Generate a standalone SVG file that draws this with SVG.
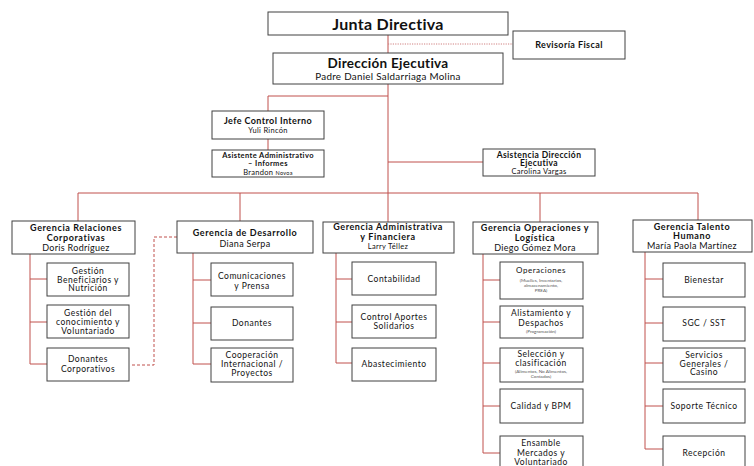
<svg xmlns="http://www.w3.org/2000/svg" width="754" height="466" viewBox="0 0 754 466">
  <style>
    .box { fill: #ffffff; stroke: #404040; stroke-width: 1; }
    .ln { fill: none; stroke: #c0504d; stroke-width: 1; }
    .dash { fill: none; stroke: #c0504d; stroke-width: 1; stroke-dasharray: 3 2; }
    .dot { fill: none; stroke: #d08080; stroke-width: 1; stroke-dasharray: 1.2 1.2; }
    text { font-family: Lato, "Liberation Sans", sans-serif; text-anchor: middle; fill: #111111; }
    .top { font-size: 16px; font-weight: bold; letter-spacing: 0.3px; }
    .dir { font-size: 13.5px; font-weight: bold; letter-spacing: 0.3px; }
    .h { font-size: 9px; font-weight: bold; letter-spacing: 0.6px; }
    .hs { font-size: 8.5px; font-weight: bold; letter-spacing: 0.4px; }
    .n { font-size: 9px; letter-spacing: 0.3px; }
    .ns { font-size: 7.5px; letter-spacing: 0.3px; }
    .c { font-size: 8.5px; letter-spacing: 0.5px; }
    .s { font-size: 4.6px; fill: #555555; }
  </style>

  <rect width="754" height="466" fill="#ffffff"/>

  <!-- connectors -->
  <g id="connectors">
    <path class="ln" d="M388 35 V53 M388 84 V193"/>
    <path class="dot" d="M388 44 H513"/>
    <path class="ln" d="M388 96 H268 V111 M268 139 V150"/>
    <path class="ln" d="M388 162 H483"/>
    <path class="ln" d="M78 193 H698"/>
    <path class="ln" d="M78 193 V221 M240 193 V221 M388 193 V222 M540 193 V222 M698 193 V220"/>
    <!-- department spines and branches -->
    <path class="ln" d="M30 254 V364 M30 279 H47 M30 322 H47 M30 364 H47"/>
    <path class="ln" d="M193 253 V364 M193 280 H211 M193 323 H211 M193 364 H211"/>
    <path class="ln" d="M336 253 V363 M336 279 H352 M336 322 H352 M336 363 H352"/>
    <path class="ln" d="M483 254 V453 M483 280 H500 M483 322 H500 M483 363 H500 M483 406 H500 M483 453 H500"/>
    <path class="ln" d="M645 252 V449 M645 279 H663 M645 323 H663 M645 363 H663 M645 406 H663 M645 449 H663"/>
    <path class="dash" d="M177 237 H154 V365 H130"/>
  </g>

  <g id="junta">
    <rect class="box" x="268" y="12" width="240" height="23"/>
    <text class="top" x="388" y="29.5">Junta Directiva</text>
  </g>

  <g id="revisoria">
    <rect class="box" x="513" y="31" width="112" height="28"/>
    <text class="hs" x="569" y="48" style="font-size:9px">Revisoría Fiscal</text>
  </g>

  <g id="direccion">
    <rect class="box" x="273" y="53" width="230" height="31"/>
    <text class="dir" x="388" y="67.5">Dirección Ejecutiva</text>
    <text class="n" x="388" y="80" style="font-size:9.8px">Padre Daniel Saldarriaga  Molina</text>
  </g>

  <g id="control-interno">
    <rect class="box" x="212" y="111" width="112" height="28"/>
    <text class="hs" x="268" y="124" style="font-size:9px">Jefe Control Interno</text>
    <text class="ns" x="268" y="133">Yuli  Rincón</text>
  </g>

  <g id="asistente-admin">
    <rect class="box" x="212" y="150" width="112" height="27"/>
    <text class="hs" x="268" y="157.5" style="font-size:7.5px">Asistente Administrativo</text>
    <text class="hs" x="268" y="166" style="font-size:7.5px">– Informes</text>
    <text class="ns" x="268" y="174.5">Brandon  <tspan style="font-size:5.5px">Novoa</tspan></text>
  </g>

  <g id="asistencia-direccion">
    <rect class="box" x="483" y="149" width="112" height="27"/>
    <text class="hs" x="539" y="157.5">Asistencia Dirección</text>
    <text class="hs" x="539" y="166">Ejecutiva</text>
    <text class="ns" x="539" y="174">Carolina Vargas</text>
  </g>

  <!-- Gerencia Relaciones Corporativas -->
  <g id="g-relaciones">
    <rect class="box" x="12" y="221" width="123" height="33"/>
    <text class="h" x="76" y="231">Gerencia Relaciones</text>
    <text class="h" x="76" y="241">Corporativas</text>
    <text class="n" x="76" y="251">Doris Rodríguez</text>
  </g>
  <g id="gestion-beneficiarios">
    <rect class="box" x="47" y="263" width="82" height="33"/>
    <text class="c" x="88" y="274">Gestión</text>
    <text class="c" x="88" y="282.5">Beneficiarios y</text>
    <text class="c" x="88" y="291">Nutrición</text>
  </g>
  <g id="gestion-conocimiento">
    <rect class="box" x="47" y="305" width="82" height="33"/>
    <text class="c" x="88" y="316">Gestión del</text>
    <text class="c" x="88" y="325">conocimiento y</text>
    <text class="c" x="88" y="334">Voluntariado</text>
  </g>
  <g id="donantes-corporativos">
    <rect class="box" x="47" y="348" width="82" height="33"/>
    <text class="c" x="88" y="362">Donantes</text>
    <text class="c" x="88" y="372">Corporativos</text>
  </g>

  <!-- Gerencia de Desarrollo -->
  <g id="g-desarrollo">
    <rect class="box" x="177" y="221" width="136" height="32"/>
    <text class="h" x="245" y="236">Gerencia de Desarrollo</text>
    <text class="n" x="245" y="246.5">Diana Serpa</text>
  </g>
  <g id="comunicaciones">
    <rect class="box" x="211" y="263" width="82" height="33"/>
    <text class="c" x="252" y="279">Comunicaciones</text>
    <text class="c" x="252" y="289">y Prensa</text>
  </g>
  <g id="donantes">
    <rect class="box" x="211" y="307" width="82" height="33"/>
    <text class="c" x="252" y="326">Donantes</text>
  </g>
  <g id="cooperacion">
    <rect class="box" x="211" y="348" width="82" height="34"/>
    <text class="c" x="252" y="358">Cooperación</text>
    <text class="c" x="252" y="367">Internacional /</text>
    <text class="c" x="252" y="376">Proyectos</text>
  </g>

  <!-- Gerencia Administrativa y Financiera -->
  <g id="g-administrativa">
    <rect class="box" x="323" y="222" width="131" height="31"/>
    <text class="h" x="388" y="230">Gerencia Administrativa</text>
    <text class="h" x="388" y="239.5">y Financiera</text>
    <text class="ns" x="388" y="249">Larry Téllez</text>
  </g>
  <g id="contabilidad">
    <rect class="box" x="352" y="262" width="84" height="33"/>
    <text class="c" x="394" y="282">Contabilidad</text>
  </g>
  <g id="control-aportes">
    <rect class="box" x="352" y="305" width="84" height="33"/>
    <text class="c" x="394" y="320">Control Aportes</text>
    <text class="c" x="394" y="329">Solidarios</text>
  </g>
  <g id="abastecimiento">
    <rect class="box" x="352" y="348" width="84" height="33"/>
    <text class="c" x="394" y="367">Abastecimiento</text>
  </g>

  <!-- Gerencia Operaciones y Logistica -->
  <g id="g-operaciones">
    <rect class="box" x="473" y="222" width="125" height="32"/>
    <text class="h" x="535" y="231">Gerencia Operaciones y</text>
    <text class="h" x="535" y="240.5">Logística</text>
    <text class="n" x="535" y="250.5">Diego Gómez Mora</text>
  </g>
  <g id="operaciones">
    <rect class="box" x="500" y="262" width="83" height="37"/>
    <text class="c" x="541" y="273" style="font-size:8px">Operaciones</text>
    <text class="s" x="541" y="282">(Muelles, Inventarios,</text>
    <text class="s" x="541" y="287">almacenamiento,</text>
    <text class="s" x="541" y="292">PREA)</text>
  </g>
  <g id="alistamiento">
    <rect class="box" x="500" y="306" width="83" height="32"/>
    <text class="c" x="541" y="316">Alistamiento y</text>
    <text class="c" x="541" y="325.5">Despachos</text>
    <text class="s" x="541" y="333">(Programación)</text>
  </g>
  <g id="seleccion">
    <rect class="box" x="500" y="348" width="83" height="34"/>
    <text class="c" x="541" y="357">Selección y</text>
    <text class="c" x="541" y="366">clasificación</text>
    <text class="s" x="541" y="373">(Alimentos, No Alimentos,</text>
    <text class="s" x="541" y="378">Contados)</text>
  </g>
  <g id="calidad">
    <rect class="box" x="500" y="389" width="83" height="34"/>
    <text class="c" x="541" y="409">Calidad y BPM</text>
  </g>
  <g id="ensamble">
    <rect class="box" x="500" y="436" width="83" height="34"/>
    <text class="c" x="541" y="446">Ensamble</text>
    <text class="c" x="541" y="455.5">Mercados y</text>
    <text class="c" x="541" y="465">Voluntariado</text>
  </g>

  <!-- Gerencia Talento Humano -->
  <g id="g-talento">
    <rect class="box" x="633" y="220" width="119" height="32"/>
    <text class="h" x="692" y="229.5">Gerencia Talento</text>
    <text class="h" x="692" y="239">Humano</text>
    <text class="n" x="692" y="248.5">María Paola Martínez</text>
  </g>
  <g id="bienestar">
    <rect class="box" x="663" y="263" width="82" height="34"/>
    <text class="c" x="704" y="283">Bienestar</text>
  </g>
  <g id="sgc-sst">
    <rect class="box" x="663" y="307" width="82" height="34"/>
    <text class="c" x="704" y="326">SGC / SST</text>
  </g>
  <g id="servicios-generales">
    <rect class="box" x="663" y="348" width="82" height="34"/>
    <text class="c" x="704" y="358">Servicios</text>
    <text class="c" x="704" y="366.5">Generales /</text>
    <text class="c" x="704" y="375">Casino</text>
  </g>
  <g id="soporte-tecnico">
    <rect class="box" x="663" y="389" width="82" height="34"/>
    <text class="c" x="704" y="409">Soporte Técnico</text>
  </g>
  <g id="recepcion">
    <rect class="box" x="663" y="436" width="82" height="34"/>
    <text class="c" x="704" y="456">Recepción</text>
  </g>
</svg>
